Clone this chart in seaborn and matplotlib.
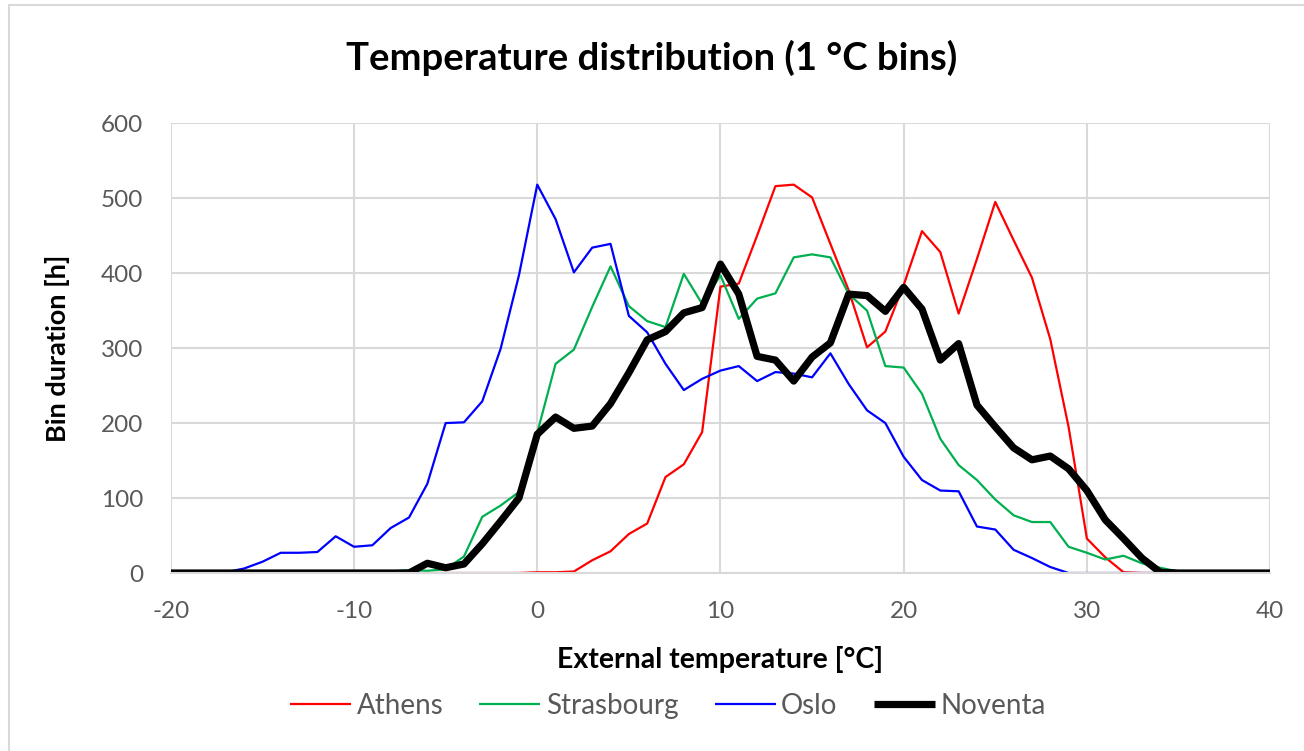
import matplotlib
matplotlib.use("Agg")
import matplotlib.pyplot as plt
import seaborn as sns
import pandas as pd

# External temperature bins (1 °C), -20 .. 40
temps = list(range(-20, 41))

athens = [0] * 20 + [1, 1, 2, 17, 29, 52, 66, 128, 145, 188,
                     382, 386, 450, 516, 518, 501, 439, 377, 301, 322,
                     384, 456, 428, 346, 419, 495, 444, 394, 312, 195,
                     46, 21, 1, 0, 0, 0, 0, 0, 0, 0, 0]
strasbourg = [0] * 11 + [0, 2, 4, 3, 5, 22, 75, 90, 108,
                         187, 279, 298, 355, 409, 356, 336, 328, 399, 359,
                         397, 339, 366, 373, 421, 425, 421, 372, 350, 276,
                         274, 239, 179, 144, 124, 98, 77, 68, 68, 35,
                         27, 18, 23, 13, 7, 2, 0, 0, 0, 0, 0]
oslo = [0, 0, 0, 1, 6, 15, 27, 27, 28, 49,
        35, 37, 60, 74, 119, 200, 201, 229, 299, 397,
        518, 472, 401, 434, 439, 343, 321, 279, 244, 259,
        270, 276, 256, 268, 266, 261, 293, 252, 217, 200,
        155, 124, 110, 109, 62, 58, 31, 20, 8, 0,
        0, 0, 0, 0, 0, 0, 0, 0, 0, 0, 0]
noventa = [0] * 14 + [13, 7, 12, 39, 69, 100,
                      185, 208, 193, 196, 226, 267, 311, 322, 347, 354,
                      412, 372, 289, 284, 256, 288, 307, 372, 370, 349,
                      381, 352, 284, 306, 224, 195, 167, 151, 156, 139,
                      110, 71, 46, 20, 1, 0, 0, 0, 0, 0, 0]

cities = ["Athens", "Strasbourg", "Oslo", "Noventa"]
colors = {"Athens": "#FF0000", "Strasbourg": "#00B050", "Oslo": "#0000FF", "Noventa": "#000000"}
widths = {"Athens": 1.6, "Strasbourg": 1.6, "Oslo": 1.6, "Noventa": 5.2}

df = pd.DataFrame({"temp": temps, "Athens": athens, "Strasbourg": strasbourg,
                   "Oslo": oslo, "Noventa": noventa})

sns.set_style("white")
plt.rcParams["font.family"] = ["Lato", "DejaVu Sans"]
plt.rcParams["axes.unicode_minus"] = False

fig = plt.figure(figsize=(13.04, 7.51), dpi=100)
ax = fig.add_axes([0.131, 0.237, 0.843, 0.599])

for city in cities:
    sns.lineplot(data=df, x="temp", y=city, color=colors[city], linewidth=widths[city],
                 label=city, ax=ax, solid_capstyle="butt")

ax.set_xlim(-20, 40)
ax.set_ylim(0, 600)
ax.set_xticks(range(-20, 41, 10))
ax.set_yticks(range(0, 601, 100))
ax.grid(True, color="#d9d9d9", linewidth=1.5)
ax.set_axisbelow(True)
for s in ["top", "right", "left"]:
    ax.spines[s].set_visible(False)
ax.spines["bottom"].set_color("#d9d9d9")
ax.spines["bottom"].set_linewidth(1.5)
ax.tick_params(axis="both", length=0, labelsize=17.5, labelcolor="#595959")
ax.tick_params(axis="x", pad=20)
ax.tick_params(axis="y", pad=20)

ax.set_xlabel("External temperature [°C]", fontsize=20.5, fontweight="bold", color="black", va="center")
ax.xaxis.set_label_coords(0.5, -0.193)
ax.set_ylabel("Bin duration [h]", fontsize=19.5, fontweight="bold", color="black", va="center")
ax.yaxis.set_label_coords(-0.103, 0.5)
fig.text(0.5, 0.923, "Temperature distribution (1 °C bins)", ha="center", va="center",
         fontsize=27.5, fontweight="bold", color="black")

leg = ax.legend(loc="center", bbox_to_anchor=(0.452, -0.296), ncol=4, frameon=False,
                fontsize=20, handlelength=2.2, handletextpad=0.2, columnspacing=1.3)
for t in leg.get_texts():
    t.set_color("#595959")

# light frame around the chart area (left and top edges visible)
fig.patches.append(plt.Rectangle((9 / 1304, -0.05), 1.1, 0.05 + 1 - 5 / 751,
                                 transform=fig.transFigure, fill=False,
                                 edgecolor="#d9d9d9", linewidth=1.5))

fig.savefig("out.png", dpi=100)
